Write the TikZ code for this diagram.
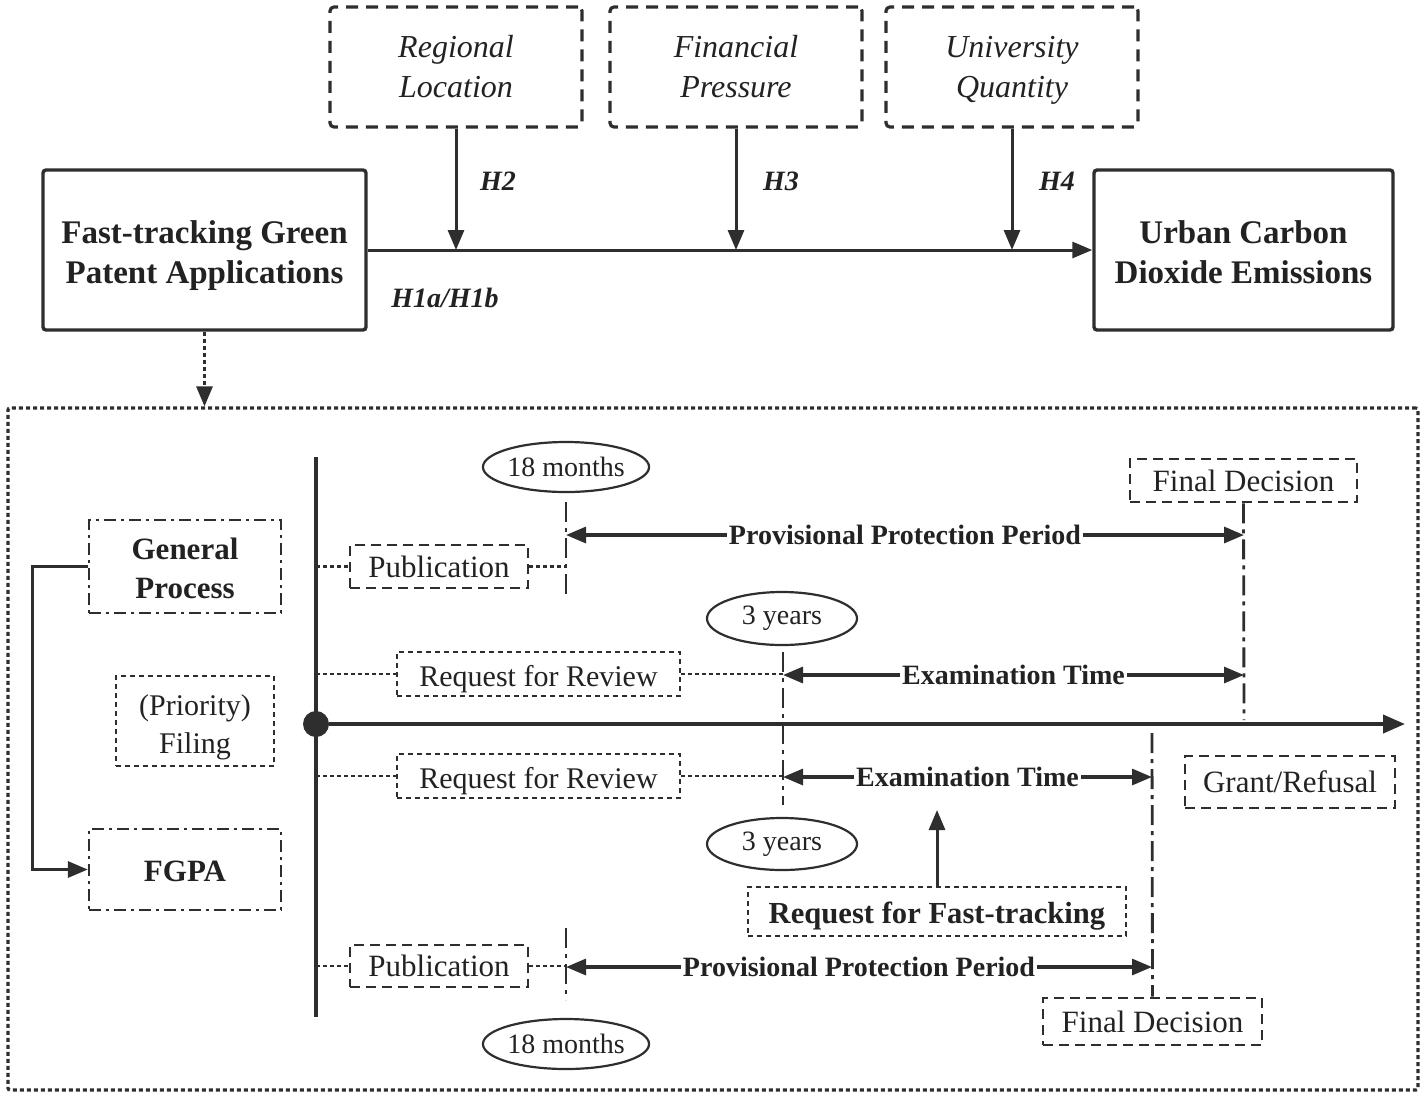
\documentclass[tikz,border=0pt]{standalone}
\usepackage{fontspec}
\setmainfont{Liberation Serif}
\usetikzlibrary{arrows.meta,shapes.geometric,calc}
\definecolor{lc}{HTML}{2E2E2E}
\definecolor{tc}{HTML}{222222}
\newcommand\fsz[2]{\fontsize{#1}{#2}\selectfont}
\begin{document}
\begin{tikzpicture}[x=0.5pt,y=-0.5pt,
  every node/.style={text=tc},
  ln/.style={draw=lc, line width=1.5pt},
  tip/.style={-{Triangle[length=10pt,width=8pt]}},
  arr/.style={ln, tip},
  arr2/.style={ln, line width=1.6pt, {Triangle[length=10pt,width=8pt]}-{Triangle[length=10pt,width=8pt]}},
  mainbox/.style={draw=lc, line width=1.7pt, rounded corners=1.5pt, minimum height=80pt, align=center, font=\bfseries\fsz{16.5pt}{20pt}},
  modbox/.style={draw=lc, line width=1.6pt, rounded corners=2pt, dash pattern=on 6pt off 4pt, minimum width=126pt, minimum height=60pt, align=center, font=\itshape\fsz{16pt}{20pt}},
  hlab/.style={font=\bfseries\itshape\fsz{14pt}{16pt}},
  bigbox/.style={draw=lc, line width=1.6pt, dash pattern=on 2pt off 1.5pt, rounded corners=1pt, minimum width=705pt, minimum height=341pt},
  dotl/.style={draw=lc, line width=1.4pt, dash pattern=on 2pt off 1.5pt},
  mk/.style={draw=lc, line width=1.4pt, dash pattern=on 10pt off 3pt on 2pt off 3pt},
  dashbox/.style={draw=lc, line width=1.3pt, dash pattern=on 5pt off 3pt, minimum height=21.5pt, inner sep=1pt, font=\fsz{15.5pt}{18pt}},
  dotbox/.style={draw=lc, line width=1.1pt, dash pattern=on 2.5pt off 2pt, inner sep=1pt, font=\fsz{15pt}{19pt}, align=center},
  lowtext/.style={text height=12pt, text depth=0pt},
  ddbox/.style={draw=lc, line width=1.2pt, dash pattern=on 6pt off 2.5pt on 1.5pt off 2.5pt, minimum width=96pt, align=center, font=\bfseries\fsz{15.5pt}{19.5pt}},
  ell/.style={draw=lc, ellipse, line width=1.1pt, inner sep=0pt, font=\fsz{14pt}{16pt}},
  lab/.style={fill=white, inner xsep=1pt, inner ysep=0pt, font=\bfseries\fsz{14pt}{16pt}}
]
\useasboundingbox (0,0) rectangle (1423,1093);

% ---------- upper model ----------
\node[mainbox, minimum width=161.5pt] (src) at (204.5,250) {\rule{0pt}{19pt}Fast-tracking Green\\\strut Patent Applications};
\node[mainbox, minimum width=149.5pt] (dst) at (1243.5,250) {\rule{0pt}{19pt}Urban Carbon\\\strut Dioxide Emissions};
\node[modbox] (reg) at (456,67) {\rule{0pt}{16pt}Regional\\\strut Location};
\node[modbox] (fin) at (736,67) {\rule{0pt}{16pt}Financial\\\strut Pressure};
\node[modbox] (uni) at (1012,67) {\rule{0pt}{16pt}University\\\strut Quantity};

\draw[arr] (src.east) -- (dst.west);
\draw[arr] (reg.south) -- (reg.south |- src.east);
\draw[arr] (fin.south) -- (fin.south |- src.east);
\draw[arr] (uni.south) -- (uni.south |- src.east);

\node[hlab] (h2) at (498,181) {H2};
\node[hlab] (h3) at (781,181) {H3};
\node[hlab] (h4) at (1057,181) {H4};
\node[hlab] (h1) at (445,298) {H1a/H1b};

% ---------- big dotted frame ----------
\node[bigbox] (big) at (713,749) {};
\draw[dotl, tip] (src.south) -- (src.south |- big.north);

% ---------- left boxes ----------
\node[ddbox, inner ysep=0pt, minimum height=46.5pt] (gp) at (185,566.5) {\rule{0pt}{18.6pt}General\\\strut Process};
\node[dotbox, inner ysep=0pt, minimum width=79pt, minimum height=45pt] (pf) at (195,721) {\rule{0pt}{19.3pt}(Priority)\\\strut Filing};
\node[ddbox, minimum height=40.5pt, text height=12pt, text depth=0pt] (fgpa) at (185,869.5) {FGPA};
\draw[ln, line width=1.6pt, tip] (gp.west) -- ++(-55,0) |- (fgpa.west);

% ---------- time axis ----------
\coordinate (vt) at (316,457);
\coordinate (vb) at (316,1017);
\draw[ln, line width=1.6pt] (vt) -- (vb);
\node[circle, fill=lc, minimum size=13pt, inner sep=0pt] (dot) at (316,724) {};
\coordinate (axe) at (1405,724);
\draw[ln, line width=2pt, -{Triangle[length=11pt,width=9pt]}] (dot) -- (axe);

% ---------- general process ----------
\node[dashbox, minimum width=89pt] (pub1) at (439,566.5) {Publication};
\coordinate (m1t) at (566,502);
\coordinate (m1b) at (566,595);
\draw[mk] (m1t) -- (m1b);
\draw[dotl] (pub1.west -| vt) -- (pub1.west);
\draw[dotl] (pub1.east) -- (pub1.east -| m1t);
\node[ell, minimum width=80pt, minimum height=25pt] (e18a) at (566,467) {18 months};

\node[dashbox, minimum width=113.5pt] (fd1) at (1243.5,480.5) {Final Decision};
\coordinate (fd1b) at (1244,720);
\draw[mk] (fd1.south) -- (fd1b);
\coordinate (pp1a) at (566,535);
\coordinate (pp1b) at (1244,535);
\draw[arr2] (pp1a) -- node[lab] {Provisional Protection Period} (pp1b);

\node[ell, minimum width=75pt, minimum height=26.5pt] (y3a) at (782,618.5) {3 years};
\coordinate (y3t) at (783,652);
\coordinate (y3b) at (783,805);
\draw[mk] (y3t) -- (y3b);

\node[dotbox, lowtext, minimum width=141.5pt, minimum height=22pt] (rr1) at (538.5,674) {Request for Review};
\draw[dotl] (rr1.west -| vt) -- (rr1.west);
\draw[dotl] (rr1.east) -- (rr1.east -| y3t);
\coordinate (ex1a) at (783,675);
\coordinate (ex1b) at (1244,675);
\draw[arr2] (ex1a) -- node[lab] {Examination Time} (ex1b);

% ---------- FGPA process ----------
\node[dotbox, lowtext, minimum width=141.5pt, minimum height=22pt] (rr2) at (538.5,776) {Request for Review};
\draw[dotl] (rr2.west -| vt) -- (rr2.west);
\draw[dotl] (rr2.east) -- (rr2.east -| y3t);

\node[dashbox, minimum width=109.5pt, minimum height=23.5pt] (fd2) at (1152.5,1021.5) {Final Decision};
\coordinate (fd2t) at (1152,733);
\draw[mk] (fd2t) -- (fd2.north);
\coordinate (ex2a) at (783,777);
\coordinate (ex2b) at (1152,777);
\draw[arr2] (ex2a) -- node[lab] {Examination Time} (ex2b);

\node[dashbox, minimum width=105pt, minimum height=26pt] (gr) at (1290,782) {Grant/Refusal};

\node[ell, minimum width=75pt, minimum height=26pt] (y3c) at (782,844) {3 years};

\node[dotbox, lowtext, minimum width=189pt, minimum height=24.5pt, font=\bfseries\fsz{15.3pt}{18pt}] (rft) at (937,911.5) {Request for Fast-tracking};
\coordinate (rftt) at (937,810);
\draw[arr] (rft.north) -- (rftt);

\node[dashbox, minimum width=89pt, minimum height=21pt] (pub2) at (439,966) {Publication};
\coordinate (m2t) at (566,928);
\coordinate (m2b) at (566,1000);
\draw[mk] (m2t) -- (m2b);
\draw[dotl] (pub2.west -| vt) -- (pub2.west);
\draw[dotl] (pub2.east) -- (pub2.east -| m2t);
\node[ell, minimum width=80pt, minimum height=25pt] (e18b) at (566,1044) {18 months};

\coordinate (pp2a) at (566,967);
\coordinate (pp2b) at (1152,967);
\draw[arr2] (pp2a) -- node[lab] {Provisional Protection Period} (pp2b);
\end{tikzpicture}
\end{document}
